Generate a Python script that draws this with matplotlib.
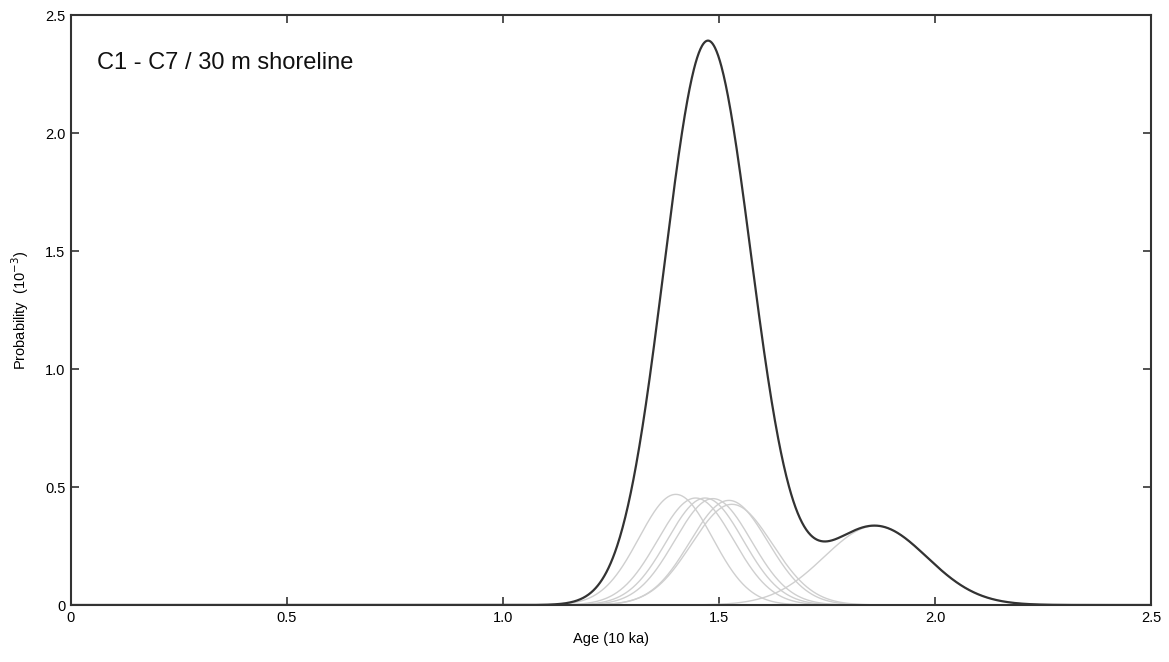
import numpy as np
import matplotlib
matplotlib.use('Agg')
import matplotlib.pyplot as plt

samples = ['C1', 'C2', 'C3', 'C4', 'C5', 'C6', 'C7']
ages = [1.400, 1.446, 1.468, 1.486, 1.523, 1.530, 1.862]
sigmas = [0.0851, 0.0880, 0.0880, 0.0885, 0.0900, 0.0935, 0.119]

x_ticks = [0, 0.5, 1.0, 1.5, 2.0, 2.5]
x_labels = ['0', '0.5', '1.0', '1.5', '2.0', '2.5']
y_ticks = [0, 0.5, 1.0, 1.5, 2.0, 2.5]
y_labels = ['0', '0.5', '1.0', '1.5', '2.0', '2.5']

plt.rcParams['font.family'] = ['Liberation Sans', 'DejaVu Sans']

fig = plt.figure(figsize=(11.69, 6.62), dpi=100, facecolor='w')
ax = fig.add_axes([0.0607, 0.0861, 0.9239, 0.8912])

age = np.linspace(0, 2.5, 2000)
total = np.zeros_like(age)
for mu, s in zip(ages, sigmas):
	# probability per year, in units of 1e-3 (age axis is in 10 ka)
	p = 1000.0 / (s * 10000.0 * np.sqrt(2 * np.pi)) * np.exp(-(age - mu) ** 2 / (2 * s ** 2))
	total = total + p
	ax.plot(age, p, color='#cfcfcf', lw=1.0, zorder=2)

ax.plot(age, total, color='#333333', lw=1.6, zorder=3)

ax.set_xlim(0, 2.5)
ax.set_ylim(0, 2.5)
ax.set_xticks(x_ticks)
ax.set_xticklabels(x_labels)
ax.set_yticks(y_ticks)
ax.set_yticklabels(y_labels)
ax.tick_params(direction='in', top=True, right=True, length=6, width=1.2,
	color='#333333', labelsize=10.5, pad=4)
for sp in ax.spines.values():
	sp.set_color('#333333')
	sp.set_linewidth(1.5)

ax.set_xlabel('Age (10 ka)', fontsize=10.5, labelpad=5)
ax.set_ylabel('Probability  (10$^{-3}$)', fontsize=10.5, labelpad=10)

ax.text(0.024, 0.919, 'C1 - C7 / 30 m shoreline', transform=ax.transAxes,
	fontsize=17, va='center', ha='left', color='#111111')

fig.savefig('out.png', dpi=100)
